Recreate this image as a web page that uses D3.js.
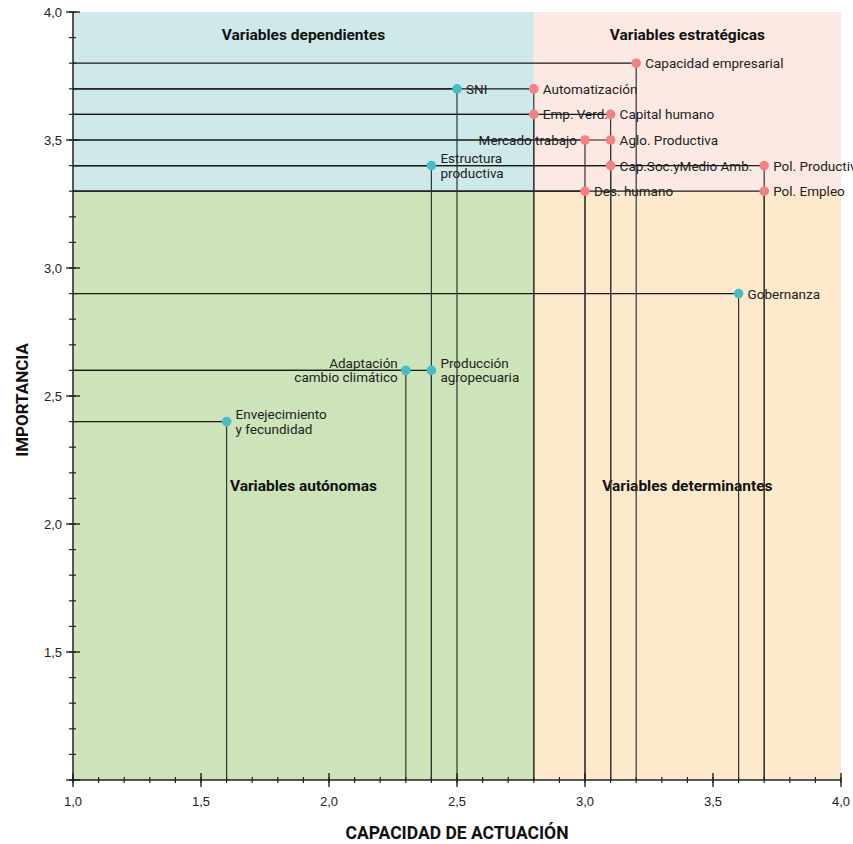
<!DOCTYPE html>
<html><head><meta charset="utf-8">
<script src="https://cdn.jsdelivr.net/npm/d3@7"></script>
<style>body{margin:0;background:#fff}svg{display:block}</style>
</head><body>
<svg id="c" width="853" height="844"></svg>
<script>
const names = ["Capacidad empresarial","SNI","Automatización","Emp. Verd.","Capital humano","Mercado trabajo","Aglo. Productiva","Estructura|productiva","Cap.Soc.yMedio Amb.","Pol. Productiva","Des. humano","Pol. Empleo","Gobernanza","Adaptación|cambio climático","Producción|agropecuaria","Envejecimiento|y fecundidad"];
const capacidad = [3.2,2.5,2.8,2.8,3.1,3.0,3.1,2.4,3.1,3.7,3.0,3.7,3.6,2.3,2.4,1.6];
const importancia = [3.8,3.7,3.7,3.6,3.6,3.5,3.5,3.4,3.4,3.4,3.3,3.3,2.9,2.6,2.6,2.4];
const grupo = ["e","d","e","e","e","e","e","d","e","e","e","e","d","d","d","d"];
const labelSide = ["r","r","r","r","r","l","r","r","r","r","r","r","r","l","r","r"];
const quadrantNames = ["Variables dependientes","Variables estratégicas","Variables autónomas","Variables determinantes"];
const xTickLabels = ["1,0","1,5","2,0","2,5","3,0","3,5","4,0"];
const yTickLabels = ["1,5","2,0","2,5","3,0","3,5","4,0"];
const splitX = 2.8, splitY = 3.3;

const svg = d3.select("#c");
const x = d3.scaleLinear().domain([1,4]).range([73,841]);
const y = d3.scaleLinear().domain([1,4]).range([780,12]);

// quadrants
const quads = [
  {x0:1,x1:splitX,y0:splitY,y1:4,fill:"#cfe8ea"},
  {x0:splitX,x1:4,y0:splitY,y1:4,fill:"#fde9e4"},
  {x0:1,x1:splitX,y0:1,y1:splitY,fill:"#cde3b9"},
  {x0:splitX,x1:4,y0:1,y1:splitY,fill:"#fde9cc"}
];
svg.selectAll("rect.q").data(quads).join("rect")
  .attr("x",d=>x(d.x0)).attr("y",d=>y(d.y1))
  .attr("width",d=>x(d.x1)-x(d.x0)).attr("height",d=>y(d.y0)-y(d.y1))
  .attr("fill",d=>d.fill);

const fontLab = "Roboto, 'Noto Sans', sans-serif";
// quadrant titles
const qpos = [[(1+splitX)/2,3.89],[(splitX+4)/2,3.89],[(1+splitX)/2,2.13],[(splitX+4)/2,2.13]];
svg.selectAll("text.qt").data(quadrantNames).join("text")
  .attr("x",(d,i)=>x(qpos[i][0])).attr("y",(d,i)=>y(qpos[i][1]))
  .attr("text-anchor","middle").attr("font-family",fontLab).attr("font-weight",700)
  .attr("font-size",15.5).attr("fill","#111").text(d=>d);

const pts = names.map((n,i)=>({n,cx:capacidad[i],cy:importancia[i],g:grupo[i],s:labelSide[i]}));

// labels (one text element per line)
pts.forEach(p=>{
  const lines = p.n.split("|");
  const tx = x(p.cx) + (p.s==="l"?-8:9);
  const ty = lines.length>1 ? y(p.cy)-2.5 : y(p.cy)+5;
  lines.forEach((l,k)=>svg.append("text")
    .attr("font-family",fontLab).attr("font-size",13.5).attr("fill","#222")
    .attr("text-anchor",p.s==="l"?"end":"start")
    .attr("x",tx).attr("y",ty+k*14.5).text(l));
});

// drop lines
svg.selectAll("line.h").data(pts).join("line")
  .attr("x1",x(1)).attr("x2",d=>x(d.cx)).attr("y1",d=>y(d.cy)).attr("y2",d=>y(d.cy))
  .attr("stroke","#1a1a1a").attr("stroke-width",1.2);
svg.selectAll("line.v").data(pts).join("line")
  .attr("x1",d=>x(d.cx)).attr("x2",d=>x(d.cx)).attr("y1",d=>y(d.cy)).attr("y2",y(1))
  .attr("stroke","#333").attr("stroke-width",1.2);

// axes
const majors = d3.range(2,9).map(v=>v*0.5);
const minors = d3.range(10,41).map(v=>v/10);
const ax = svg.append("g");
ax.append("line").attr("x1",x(1)).attr("x2",x(4)).attr("y1",y(1)).attr("y2",y(1)).attr("stroke","#222").attr("stroke-width",1.5);
ax.append("line").attr("x1",x(1)).attr("x2",x(1)).attr("y1",y(1)).attr("y2",y(4)).attr("stroke","#222").attr("stroke-width",1.5);
ax.selectAll("line.mx").data(minors).join("line").attr("x1",d=>x(d)).attr("x2",d=>x(d)).attr("y1",y(1)-3).attr("y2",y(1)+3).attr("stroke","#222").attr("stroke-width",1.2);
ax.selectAll("line.Mx").data(majors).join("line").attr("x1",d=>x(d)).attr("x2",d=>x(d)).attr("y1",y(1)-7).attr("y2",y(1)+7).attr("stroke","#222").attr("stroke-width",1.4);
ax.selectAll("line.my").data(minors).join("line").attr("y1",d=>y(d)).attr("y2",d=>y(d)).attr("x1",x(1)-4).attr("x2",x(1)+3).attr("stroke","#222").attr("stroke-width",1.2);
ax.selectAll("line.My").data(majors).join("line").attr("y1",d=>y(d)).attr("y2",d=>y(d)).attr("x1",x(1)-7).attr("x2",x(1)+7).attr("stroke","#222").attr("stroke-width",1.4);
const fontTick = "'Liberation Sans', Arial, sans-serif";
ax.selectAll("text.tx").data(xTickLabels).join("text")
  .attr("x",(d,i)=>x(1+i*0.5)).attr("y",806).attr("text-anchor","middle")
  .attr("font-family",fontTick).attr("font-size",13).attr("fill","#222").text(d=>d);
ax.selectAll("text.ty").data(yTickLabels).join("text")
  .attr("x",62).attr("y",(d,i)=>y(1.5+i*0.5)+5).attr("text-anchor","end")
  .attr("font-family",fontTick).attr("font-size",13).attr("fill","#222").text(d=>d);

// axis titles
svg.append("text").attr("x",457).attr("y",839).attr("text-anchor","middle")
  .attr("font-family",fontLab).attr("font-weight",700).attr("font-size",17.5).attr("fill","#111")
  .text("CAPACIDAD DE ACTUACIÓN");
svg.append("text").attr("transform","translate(28,400) rotate(-90)").attr("text-anchor","middle")
  .attr("font-family",fontLab).attr("font-weight",700).attr("font-size",17).attr("fill","#111")
  .text("IMPORTANCIA");

// dots
svg.selectAll("circle").data(pts).join("circle")
  .attr("cx",d=>x(d.cx)).attr("cy",d=>y(d.cy)).attr("r",4.8)
  .attr("fill",d=>d.g==="e"?"#f2817f":"#48bcc9");
</script>
</body></html>
